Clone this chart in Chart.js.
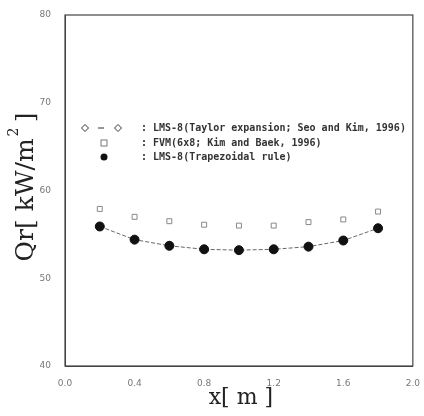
<!DOCTYPE html>
<html>
<head>
<meta charset="utf-8">
<script src="https://cdn.jsdelivr.net/npm/chart.js@4"></script>
<style>
  html, body { margin: 0; padding: 0; background: #fff; }
  #wrap { width: 424px; height: 416px; }
</style>
</head>
<body>
<div id="wrap"><canvas id="qrChart" width="424" height="416"></canvas></div>
<script>
// values
const xPos = [0.2, 0.4, 0.6, 0.8, 1.0, 1.2, 1.4, 1.6, 1.8];
const lmsTaylor = [55.9, 54.4, 53.7, 53.3, 53.2, 53.3, 53.6, 54.3, 55.7];
const fvm = [57.9, 57.0, 56.5, 56.1, 56.0, 56.0, 56.4, 56.7, 57.6];
const lmsTrap = [55.9, 54.4, 53.7, 53.3, 53.2, 53.3, 53.6, 54.3, 55.7];
const seriesNames = [
    "LMS-8(Taylor expansion; Seo and Kim, 1996)",
    "FVM(6x8; Kim and Baek, 1996)",
    "LMS-8(Trapezoidal rule)"
];
const yTicks = [40, 50, 60, 70, 80];
const xTicks = [0.0, 0.4, 0.8, 1.2, 1.6, 2.0];

function toPts(ys) {
    return xPos.map((x, i) => ({ x: x, y: ys[i] }));
}

// frame, legend and axis titles
const extras = {
    id: "extras",
    afterDraw(chart) {
        const ctx = chart.ctx;
        const a = chart.chartArea;
        ctx.save();
        ctx.strokeStyle = "#444";
        ctx.lineWidth = 1.2;
        ctx.strokeRect(a.left, a.top, a.right - a.left, a.bottom - a.top);

        // legend
        ctx.font = "bold 10px 'DejaVu Sans Mono', monospace";
        ctx.textBaseline = "middle";
        const rows = [128, 143, 157];
        const tx = 141;
        // row 1: diamond - diamond
        ctx.strokeStyle = "#333";
        ctx.lineWidth = 1;
        [85, 118].forEach(cx => {
            ctx.beginPath();
            ctx.moveTo(cx, rows[0] - 3.5);
            ctx.lineTo(cx + 3.5, rows[0]);
            ctx.lineTo(cx, rows[0] + 3.5);
            ctx.lineTo(cx - 3.5, rows[0]);
            ctx.closePath();
            ctx.stroke();
        });
        ctx.beginPath();
        ctx.moveTo(98, rows[0]);
        ctx.lineTo(104, rows[0]);
        ctx.stroke();
        // row 2: square
        ctx.strokeStyle = "#777";
        ctx.strokeRect(101, rows[1] - 3, 6, 6);
        // row 3: filled circle
        ctx.fillStyle = "#111";
        ctx.beginPath();
        ctx.arc(104, rows[2], 3.5, 0, Math.PI * 2);
        ctx.fill();
        ctx.fillStyle = "#333";
        seriesNames.forEach((n, i) => ctx.fillText(": " + n, tx, rows[i]));

        // axis titles
        ctx.fillStyle = "#222";
        ctx.font = "22px 'DejaVu Serif', serif";
        ctx.textAlign = "center";
        ctx.textBaseline = "middle";
        ctx.fillText("x[ m ]", (a.left + a.right) / 2 + 2, 398);
        ctx.translate(26, 187);
        ctx.rotate(-Math.PI / 2);
        ctx.font = "25px 'DejaVu Serif', serif";
        ctx.fillText("Qr[ kW/m  ]", 0, 0);
        ctx.font = "14px 'DejaVu Serif', serif";
        ctx.fillText("2", 55, -12);
        ctx.restore();
    }
};

new Chart(document.getElementById("qrChart").getContext("2d"), {
    type: "scatter",
    data: {
        datasets: [
            {
                label: seriesNames[0],
                data: toPts(lmsTaylor),
                showLine: true,
                borderColor: "#666",
                borderWidth: 1,
                borderDash: [4, 2],
                pointStyle: "rectRot",
                pointRadius: 4,
                pointBackgroundColor: "#fff",
                pointBorderColor: "#333",
                order: 3
            },
            {
                label: seriesNames[1],
                data: toPts(fvm),
                showLine: false,
                pointStyle: "rect",
                pointRadius: 3.5,
                pointBorderWidth: 1,
                pointBackgroundColor: "rgba(255,255,255,0)",
                pointBorderColor: "#888",
                order: 2
            },
            {
                label: seriesNames[2],
                data: toPts(lmsTrap),
                showLine: false,
                pointStyle: "circle",
                pointRadius: 4.5,
                pointBackgroundColor: "#111",
                pointBorderColor: "#111",
                order: 1
            }
        ]
    },
    options: {
        responsive: false,
        animation: false,
        layout: { padding: { top: 15, right: 8, left: 0, bottom: 0 } },
        plugins: {
            legend: { display: false },
            tooltip: { enabled: false }
        },
        scales: {
            x: {
                type: "linear",
                min: 0, max: 2.0,
                afterBuildTicks: s => { s.ticks = xTicks.map(v => ({ value: v })); },
                afterFit: s => { s.height = 50; },
                grid: { display: false },
                border: { color: "#444" },
                ticks: {
                    color: "#777",
                    font: { size: 9, family: "'DejaVu Sans', sans-serif" },
                    padding: 4,
                    maxRotation: 0,
                    callback: v => Number(v).toFixed(1)
                }
            },
            y: {
                min: 40, max: 80,
                afterBuildTicks: s => { s.ticks = yTicks.map(v => ({ value: v })); },
                afterFit: s => { s.width = 65; },
                grid: { display: false },
                border: { color: "#444" },
                ticks: {
                    color: "#777",
                    font: { size: 9, family: "'DejaVu Sans', sans-serif" },
                    padding: 6
                }
            }
        }
    },
    plugins: [extras]
});
</script>
</body>
</html>
